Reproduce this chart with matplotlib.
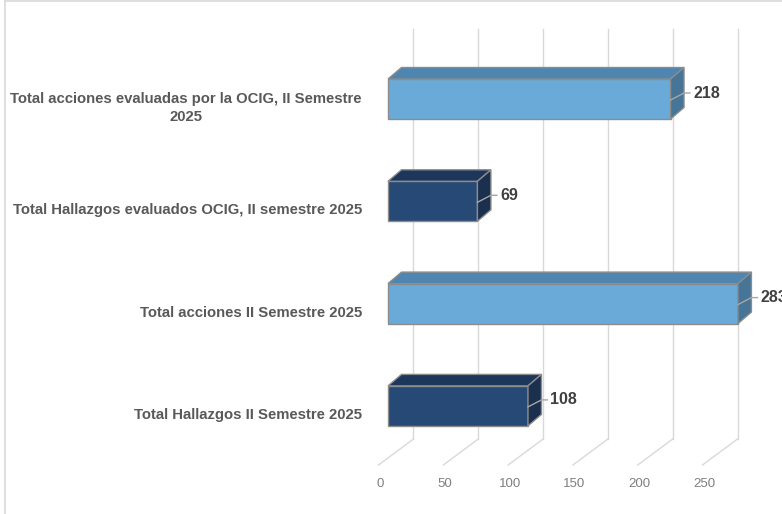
import matplotlib
matplotlib.use("Agg")
import matplotlib.pyplot as plt
from matplotlib import font_manager
from matplotlib.patches import Polygon
from matplotlib.lines import Line2D

# ---------------- data ----------------
categories = [
    "Total acciones evaluadas por la OCIG, II Semestre\n2025",
    "Total Hallazgos evaluados OCIG, II semestre 2025",
    "Total acciones II Semestre 2025",
    "Total Hallazgos II Semestre 2025",
]
values = [218, 69, 283, 108]
tick_values = [0, 50, 100, 150, 200, 250]
axis_max = 270

# ---------------- style ----------------
front_colors = ["#6aaad9", "#264a75", "#6aaad9", "#264a75"]
top_colors = ["#4f86b1", "#1c365c", "#4f86b1", "#1c365c"]
side_colors = ["#467598", "#1b2f4e", "#467598", "#1b2f4e"]

names = {f.name for f in font_manager.fontManager.ttflist}
FONT = "Liberation Sans Narrow" if "Liberation Sans Narrow" in names else "Liberation Sans"
NARROW = FONT == "Liberation Sans Narrow"
cat_fs = 12 if NARROW else 10.7
val_fs = 13 if NARROW else 11.5
tick_fs = 11 if NARROW else 9.5

W, H = 782, 514
fig = plt.figure(figsize=(W / 100, H / 100), dpi=100)
ax = fig.add_axes([0, 0, 1, 1])
ax.axis("off")

# pixel geometry
S = 1.296          # px per value unit
X0 = 388.0         # px of bar front face at value 0
Y0 = 99.0          # px (from top) of first category centre
DY = 102.3         # px between categories

ax.set_xlim(-X0 / S, (W - X0) / S)
ax.set_ylim((H - Y0) / DY, -Y0 / DY)

ux = 1.0 / S       # value units per px
uy = 1.0 / DY      # category units per px

pos = list(range(len(categories)))
bar_h = 40 * uy

# floor / back-wall gridlines
front_dx, back_dx = -9.5 * ux, 25.5 * ux
floor_front_y = (465 - Y0) * uy
floor_back_y = (439 - Y0) * uy
wall_top_y = (29 - Y0) * uy
grid_c = "#d9d9d9"
for t in tick_values:
    ax.plot([t + front_dx, t + back_dx], [floor_front_y, floor_back_y],
            color=grid_c, lw=1, zorder=1)
    ax.plot([t + back_dx, t + back_dx], [floor_back_y, wall_top_y],
            color=grid_c, lw=1, zorder=1)
    ax.text(t + front_dx + 1.5 * ux, (484 - Y0) * uy, str(t), ha="center", va="center",
            fontsize=tick_fs, color="#7f7f7f", family=FONT)

# bars
ddx, ddy = 13.5 * ux, 11.5 * uy
edge = "#8c8c8c"
for p, v, fc, tc, sc in zip(pos, values, front_colors, top_colors, side_colors):
    vv = min(v, axis_max)
    yt, yb = p - bar_h / 2, p + bar_h / 2
    ax.barh(p, vv, height=bar_h, left=0, color=fc, edgecolor=edge, lw=1, zorder=3)
    ax.add_patch(Polygon([(0, yt), (vv, yt), (vv + ddx, yt - ddy), (ddx, yt - ddy)],
                         closed=True, facecolor=tc, edgecolor=edge, lw=1, zorder=3))
    ax.add_patch(Polygon([(vv, yt), (vv + ddx, yt - ddy), (vv + ddx, yb - ddy), (vv, yb)],
                         closed=True, facecolor=sc, edgecolor=edge, lw=1, zorder=3))
    # leader line + value label
    ly = p - 6 * uy
    ax.plot([vv, vv + ddx, vv + ddx + 6 * ux], [p + 1 * uy, ly, ly],
            color="#a6a6a6", lw=1, zorder=4)
    ax.text(vv + ddx + 9 * ux, ly, str(v), ha="left", va="center",
            fontsize=val_fs, fontweight="bold", color="#404040", family=FONT, zorder=5)

# category labels
for p, c in zip(pos, categories):
    ax.text((362 - X0) * ux, p + 9 * uy, c, ha="right", va="center",
            multialignment="center", fontsize=cat_fs, fontweight="bold",
            color="#595959", family=FONT, linespacing=1.45)

# chart-area border
fig.add_artist(Line2D([5 / W, 5 / W], [0, 1 - 1 / H], color="#d9d9d9", lw=1.2,
                      transform=fig.transFigure))
fig.add_artist(Line2D([5 / W, 1], [1 - 1 / H, 1 - 1 / H], color="#d9d9d9", lw=1.2,
                      transform=fig.transFigure))

fig.savefig("out.png", dpi=100, facecolor="white")
